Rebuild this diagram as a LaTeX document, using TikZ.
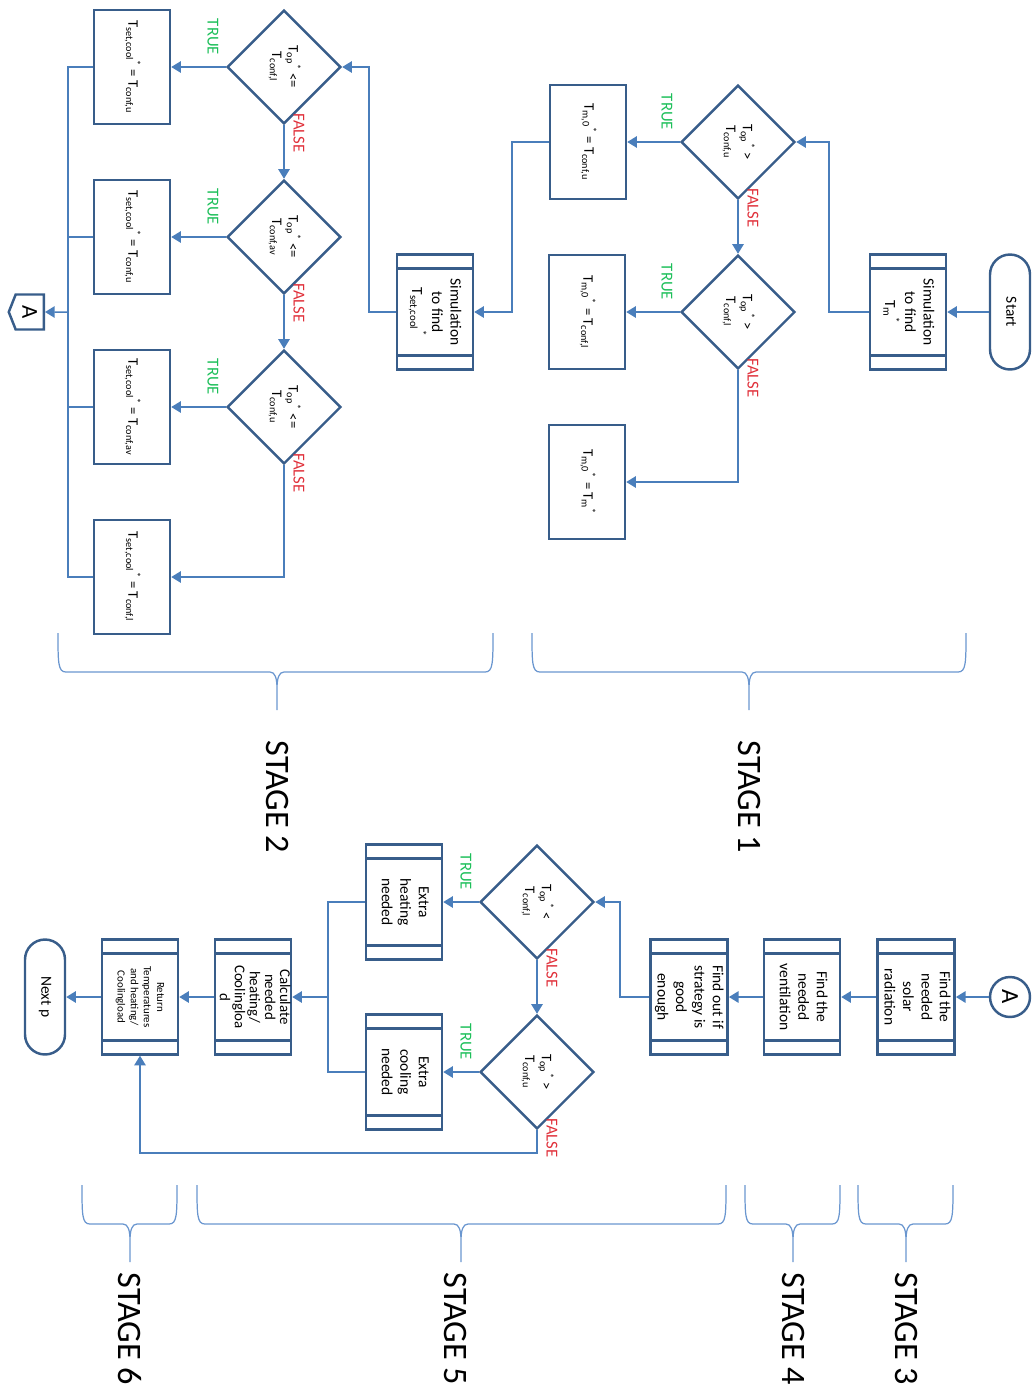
\documentclass[tikz,border=0pt]{standalone}
\usepackage{graphicx}
\usepackage{fontspec}
\setmainfont{Carlito}
\usetikzlibrary{arrows.meta,shapes.geometric,shapes.symbols,calc}
\definecolor{edge}{HTML}{385D8A}
\definecolor{wire}{HTML}{4A7EBB}
\definecolor{bracecol}{HTML}{6A96CF}
\definecolor{truecol}{HTML}{1DBF5A}
\definecolor{falsecol}{HTML}{E0303A}
\newcommand{\vtxt}[1]{\rotatebox{-90}{\begin{tabular}{@{}c@{}}#1\end{tabular}}}
\newcommand{\Tsb}[1]{T\textsubscript{#1}}

\begin{document}
\begin{tikzpicture}[x=0.02cm,y=-0.02cm,font=\fontsize{8.8}{10.5}\selectfont,
 box/.style={draw=edge,line width=1.4pt,fill=white,minimum width=1.52cm,minimum height=2.28cm,inner sep=1pt},
 small/.style={font=\fontsize{8.3}{9.5}\selectfont},
 proc/.style={box,minimum height=2.3cm,path picture={
   \draw[edge,line width=1.2pt] ([yshift=-.28cm]path picture bounding box.north west)--([yshift=-.28cm]path picture bounding box.north east);
   \draw[edge,line width=1.2pt] ([yshift=.28cm]path picture bounding box.south west)--([yshift=.28cm]path picture bounding box.south east);}},
 diam/.style={diamond,aspect=1,draw=edge,line width=1.4pt,fill=white,minimum width=2.28cm,minimum height=2.28cm,inner sep=0pt,small},
 term/.style={draw=edge,line width=1.4pt,fill=white,rounded corners=.4cm,minimum width=.8cm,minimum height=2.3cm,inner sep=1pt},
 link/.style={draw=wire,line width=.85pt},
 flow/.style={link,-{Triangle[length=5.5pt,width=6.5pt]}},
 truelab/.style={text=truecol,font=\fontsize{9.5}{10}\selectfont,inner sep=0pt},
 falselab/.style={text=falsecol,font=\fontsize{9.5}{10}\selectfont,inner sep=0pt},
 bracket/.style={draw=bracecol,line width=.7pt},
 stagelab/.style={font=\fontsize{19.5}{22}\selectfont,inner sep=0pt}]
\path[use as bounding box] (0,0) rectangle (1035,1393);

% stage 1
\node[term] (start) at (1010,312) {\vtxt{Start}};
\node[proc] (simTm) at (908,312) {\vtxt{Simulation\\to find\\\Tsb{m}\textsuperscript{*}}};
\node[diam] (dU1) at (738,142) {\vtxt{\Tsb{op}\textsuperscript{*} >\\\Tsb{conf,u}}};
\node[diam] (dL1) at (738,312) {\vtxt{\Tsb{op}\textsuperscript{*} >\\\Tsb{conf,l}}};
\node[box,small] (setU) at (588,142) {\vtxt{\Tsb{m,0}\textsuperscript{*} = \Tsb{conf,u}}};
\node[box,small] (setL) at (587,312) {\vtxt{\Tsb{m,0}\textsuperscript{*} = \Tsb{conf,l}}};
\node[box,small] (setM) at (587,482) {\vtxt{\Tsb{m,0}\textsuperscript{*} = \Tsb{m}\textsuperscript{*}}};
\draw[flow] (start)--(simTm);
\draw[flow] (simTm.west)--++(-40,0)|-(dU1.east);
\draw[flow] (dU1.west)--(setU.east);
\draw[flow] (dU1.south)--(dL1.north);
\draw[flow] (dL1.west)--(setL.east);
\draw[flow] (dL1.south)|-(setM.east);

% stage 2
\node[proc] (simTs) at (435,312) {\vtxt{Simulation\\to find\\\Tsb{set,cool}\textsuperscript{*}}};
\node[diam] (dL2) at (284,67) {\vtxt{\Tsb{op}\textsuperscript{*} <=\\\Tsb{conf,l}}};
\node[diam] (dAv) at (284,237) {\vtxt{\Tsb{op}\textsuperscript{*} <=\\\Tsb{conf,av}}};
\node[diam] (dU2) at (284,407) {\vtxt{\Tsb{op}\textsuperscript{*} <=\\\Tsb{conf,u}}};
\node[box,small] (coolU1) at (132,67) {\vtxt{\Tsb{set,cool}\textsuperscript{*} = \Tsb{conf,u}}};
\node[box,small] (coolU2) at (132,237) {\vtxt{\Tsb{set,cool}\textsuperscript{*} = \Tsb{conf,u}}};
\node[box,small] (coolAv) at (132,407) {\vtxt{\Tsb{set,cool}\textsuperscript{*} = \Tsb{conf,av}}};
\node[box,small] (coolL) at (132,577) {\vtxt{\Tsb{set,cool}\textsuperscript{*} = \Tsb{conf,l}}};
\node[signal,signal to=west,signal pointer angle=137,draw=edge,line width=1.4pt,fill=white,
 minimum width=.7cm,minimum height=.7cm,inner sep=1pt,anchor=east,font=\fontsize{13}{15}\selectfont] (offA) at (45,312) {\rotatebox{-90}{A}};
\coordinate (busL) at (68,312);
\draw[flow] (setU.west)--++(-37,0)|-(simTs.east);
\draw[flow] (simTs.west)--++(-27,0)|-(dL2.east);
\draw[flow] (dL2.west)--(coolU1.east);
\draw[flow] (dL2.south)--(dAv.north);
\draw[flow] (dAv.west)--(coolU2.east);
\draw[flow] (dAv.south)--(dU2.north);
\draw[flow] (dU2.west)--(coolAv.east);
\draw[flow] (dU2.south)|-(coolL.east);
\draw[link] (coolU1.west)-|(busL);
\draw[link] (coolL.west)-|(busL);
\draw[link] (coolU2.west)--(coolU2.west-|busL);
\draw[link] (coolAv.west)--(coolAv.west-|busL);
\draw[flow] (busL)--(offA);

% stages 3 to 6
\node[circle,draw=edge,line width=1.4pt,fill=white,minimum size=.8cm,inner sep=0pt,font=\fontsize{14}{16}\selectfont] (inA) at (1010,997) {\rotatebox{-90}{A}};
\node[proc] (solar) at (916,997) {\vtxt{Find the\\needed\\solar\\radiation}};
\node[proc] (vent) at (802,997) {\vtxt{Find the\\needed\\ventilation}};
\node[proc] (check) at (689,997) {\vtxt{Find out if\\strategy is\\good\\enough}};
\node[diam] (dHeat) at (537,902) {\vtxt{\Tsb{op}\textsuperscript{*} <\\\Tsb{conf,l}}};
\node[diam] (dCool) at (537,1072) {\vtxt{\Tsb{op}\textsuperscript{*} >\\\Tsb{conf,u}}};
\node[proc] (heat) at (404,902) {\vtxt{Extra\\heating\\needed}};
\node[proc] (cool) at (404,1072) {\vtxt{Extra\\cooling\\needed}};
\node[proc,inner sep=0pt,font=\fontsize{8.5}{8.6}\selectfont] (calc) at (253,997) {\vtxt{Calculate\\needed\\heating/\\Coolingloa\\d}};
\node[proc,font=\fontsize{6.2}{7.5}\selectfont] (ret) at (140,997) {\vtxt{Return\\Temperatures\\and heating/\\Coolingload}};
\node[term] (nextp) at (45,997) {\vtxt{Next p}};
\coordinate (busR) at (328,997);
\draw[flow] (inA)--(solar);
\draw[flow] (solar)--(vent);
\draw[flow] (vent)--(check);
\draw[flow] (check.west)--++(-29,0)|-(dHeat.east);
\draw[flow] (dHeat.west)--(heat.east);
\draw[flow] (dHeat.south)--(dCool.north);
\draw[flow] (dCool.west)--(cool.east);
\draw[link] (heat.west)-|(busR);
\draw[link] (cool.west)-|(busR);
\draw[flow] (busR)--(calc);
\draw[flow] (calc)--(ret);
\draw[flow] (ret)--(nextp);
\draw[flow] (dCool.south)--++(0,23)-|(ret.south);

% TRUE / FALSE beside each decision
\foreach \d in {dU1,dL1,dL2,dAv,dU2,dHeat,dCool}{
 \node[truelab] (t-\d) at ($(\d)+(-71,-30)$) {\rotatebox{-90}{TRUE}};
 \node[falselab] (f-\d) at ($(\d)+(15,66)$) {\rotatebox{-90}{FALSE}};
}

% braces and stage names
\foreach \xl/\xr/\xc/\yt in {532/966/749/633,58/493/277/633,858/953/906/1185,745/840/793/1185,197/726/461/1185,82/177/130/1185}
 \draw[bracket] (\xl,\yt) .. controls (\xl,\yt+30) and (\xl,\yt+39) .. (\xl+8,\yt+39) -- (\xc-7,\yt+39)
  .. controls (\xc-2,\yt+39) and (\xc,\yt+45) .. (\xc,\yt+56) -- (\xc,\yt+77)
  (\xc,\yt+56) .. controls (\xc,\yt+45) and (\xc+2,\yt+39) .. (\xc+7,\yt+39) -- (\xr-8,\yt+39)
  .. controls (\xr,\yt+39) and (\xr,\yt+30) .. (\xr,\yt);
\foreach \x/\y/\s in {749/797/1,277/797/2,906/1329/3,793/1329/4,455/1329/5,130/1329/6}
 \node[stagelab] (stage\s) at (\x,\y) {\rotatebox{-90}{STAGE \s}};
\end{tikzpicture}
\end{document}
